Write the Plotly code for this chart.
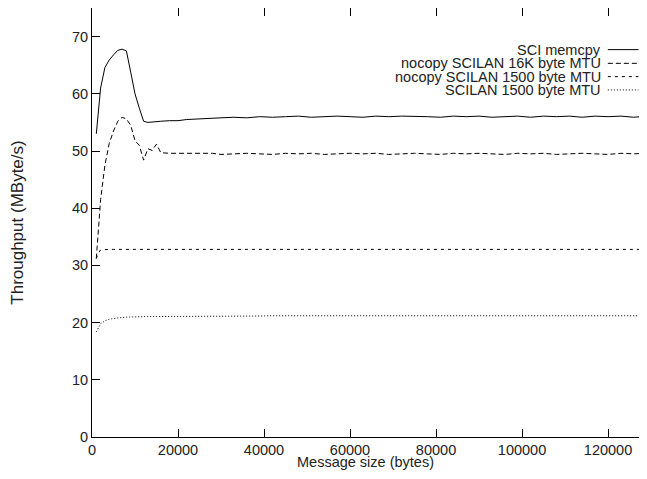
import plotly.graph_objects as go

# message sizes (bytes)
msg_size = [1000, 1500, 2000, 3000, 4000, 5000, 6000, 7000, 8000, 9000,
            10000, 11000, 12000, 13000, 14000, 15000, 16000, 18000, 20000, 22000,
            24000, 26000, 28000, 30000, 33000, 36000, 39000, 42000, 45000, 48000,
            51000, 54000, 57000, 60000, 63000, 66000, 69000, 72000, 75000, 78000,
            81000, 84000, 87000, 90000, 93000, 96000, 99000, 102000, 105000, 108000,
            111000, 114000, 117000, 120000, 123000, 126000, 129000]

sci_memcpy = [53.0, 57.5, 61.0, 64.6, 65.9, 66.8, 67.6, 67.8, 67.5, 63.8,
              60.0, 57.5, 55.2, 55.0, 55.1, 55.2, 55.2, 55.3, 55.3, 55.5,
              55.6, 55.7, 55.8, 55.8, 55.9, 55.8, 56.0, 55.9, 56.0, 56.1,
              55.9, 56.0, 56.1, 56.0, 55.9, 56.1, 56.0, 56.1, 56.1, 56.0,
              55.9, 56.1, 56.0, 56.1, 55.9, 56.0, 56.1, 55.9, 56.1, 56.0,
              56.1, 55.9, 56.1, 56.0, 56.1, 55.9, 56.1]

nocopy_16k = [31.2, 37.0, 41.5, 47.5, 51.3, 53.5, 55.2, 55.9, 55.6, 54.5,
              51.8, 51.0, 48.4, 50.4, 50.1, 51.2, 49.7, 49.6, 49.6, 49.5,
              49.6, 49.5, 49.6, 49.4, 49.5, 49.6, 49.5, 49.4, 49.6, 49.5,
              49.6, 49.4, 49.5, 49.6, 49.5, 49.6, 49.4, 49.5, 49.6, 49.5,
              49.4, 49.6, 49.5, 49.6, 49.5, 49.4, 49.6, 49.5, 49.6, 49.4,
              49.5, 49.6, 49.5, 49.4, 49.6, 49.5, 49.6]

nocopy_1500 = [31.2, 32.2, 32.7, 32.8, 32.8, 32.8, 32.8, 32.8, 32.8, 32.8,
               32.8, 32.8, 32.8, 32.8, 32.8, 32.8, 32.8, 32.8, 32.8, 32.8,
               32.8, 32.8, 32.8, 32.8, 32.8, 32.8, 32.8, 32.8, 32.8, 32.8,
               32.8, 32.8, 32.8, 32.8, 32.8, 32.8, 32.8, 32.8, 32.8, 32.8,
               32.8, 32.8, 32.8, 32.8, 32.8, 32.8, 32.8, 32.8, 32.8, 32.8,
               32.8, 32.8, 32.8, 32.8, 32.8, 32.8, 32.8]

scilan_1500 = [18.4, 19.2, 19.8, 20.3, 20.6, 20.7, 20.85, 20.9, 20.95, 21.0,
               21.0, 21.0, 21.05, 21.05, 21.05, 21.1, 21.1, 21.1, 21.1, 21.1,
               21.1, 21.1, 21.15, 21.15, 21.15, 21.15, 21.15, 21.2, 21.2, 21.2,
               21.2, 21.2, 21.2, 21.2, 21.2, 21.2, 21.2, 21.2, 21.2, 21.2,
               21.2, 21.2, 21.2, 21.2, 21.2, 21.2, 21.2, 21.2, 21.2, 21.2,
               21.2, 21.2, 21.2, 21.2, 21.2, 21.2, 21.2]

series_names = ["SCI memcpy", "nocopy SCILAN 16K byte MTU",
                "nocopy SCILAN 1500 byte MTU", "SCILAN 1500 byte MTU"]
series_values = [sci_memcpy, nocopy_16k, nocopy_1500, scilan_1500]
dashes = ["solid", "5px,3px", "3px,4px", "1px,2px"]

fnt = dict(family="Liberation Sans, Arial, sans-serif", size=14.5, color="#222")

fig = go.Figure()
for name, vals, dash in zip(series_names, series_values, dashes):
    fig.add_trace(go.Scatter(x=msg_size, y=vals, mode="lines", name=name,
                             line=dict(color="black", width=1, dash=dash),
                             showlegend=False))

# legend drawn by hand: text right-aligned, line sample on the right
row_y = [0.903, 0.871, 0.840, 0.809]
for name, dash, ry in zip(series_names, dashes, row_y):
    fig.add_annotation(x=0.932, y=ry, xref="paper", yref="paper", text=name,
                       showarrow=False, xanchor="right", yanchor="middle",
                       borderpad=0, font=fnt)
    fig.add_shape(type="line", xref="paper", yref="paper", x0=0.943, x1=0.999,
                  y0=ry, y1=ry, line=dict(color="black", width=1, dash=dash))

# x title as annotation, pinned to the bottom edge of the figure
fig.add_annotation(x=0.5, y=0, xref="paper", yref="paper", text="Message size (bytes)",
                   showarrow=False, xanchor="center", yanchor="bottom", yshift=-34,
                   borderpad=0, font=fnt)

# the page body adds 8px round the figure; keep the figure inside the window
fig.update_layout(
    template="none",
    width=631, height=463,
    margin=dict(l=84, r=0, t=0, b=34),
    plot_bgcolor="white", paper_bgcolor="white",
    font=fnt,
)
fig.update_xaxes(range=[0, 127200], tickvals=[0, 20000, 40000, 60000, 80000, 100000, 120000],
                 tickformat="d", ticks="inside", ticklen=8, tickcolor="black",
                 showgrid=False, zeroline=False, automargin=False,
                 showline=True, linecolor="black", linewidth=1, mirror="ticks")
fig.update_yaxes(range=[0, 75], dtick=10, ticks="inside", ticklen=8, tickcolor="black",
                 showgrid=False, zeroline=False, showline=True, linecolor="black",
                 linewidth=1, ticklabelstandoff=0, automargin=False,
                 title=dict(text="Throughput (MByte/s)", standoff=44))

fig.write_html("out.html")
